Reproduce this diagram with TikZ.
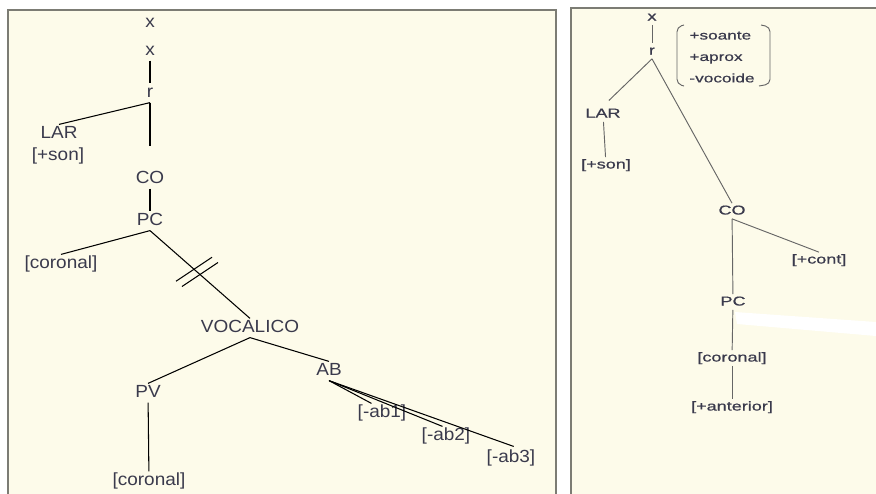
\documentclass[tikz,border=0pt]{standalone}
\usepackage{fontspec}
\setmainfont{Liberation Sans}
\newfontfamily\leftfont[FakeStretch=1.08]{Liberation Sans}
\newfontfamily\rightfont[FakeStretch=1.4, FakeBold=0.6]{Liberation Sans}
\definecolor{paper}{HTML}{FDFBEA}
\definecolor{frame}{HTML}{7C7C74}
\definecolor{ink}{HTML}{3A3A4C}

\begin{document}
\begin{tikzpicture}[
        x=0.03cm, y=-0.03cm,
        feat/.style={inner sep=1pt, text=ink, font=\leftfont\fontsize{15}{18}\selectfont, text height=11pt, text depth=3pt},
        rfeat/.style={inner sep=1pt, text=ink, font=\rightfont\fontsize{11}{13}\selectfont, text height=8.5pt, text depth=2.5pt},
        branch/.style={black, line width=0.9pt},
        rbranch/.style={black!60, line width=0.8pt},
        panel/.style={fill=paper, draw=frame, line width=2pt}
    ]

        \useasboundingbox (0,0) rectangle (876,493);
        \clip (0,0) rectangle (876,493);
        \fill[white] (0,0) rectangle (876,493);

        % Panels
        \draw[panel] (8,10) rectangle (556,520);
        \draw[panel] (571,8) rectangle (900,520);

        % Left tree: nodes
        \node[feat] (xtop) at (150,23) {x};
        \node[feat] (xl) at (150,51) {x};
        \node[feat] (rl) at (150,93) {r};
        \node[feat] (larl) at (59,134) {LAR};
        \node[feat] (sonl) at (58,156) {[+son]};
        \node[feat] (col) at (150,179) {CO};
        \node[feat] (pcl) at (150,221) {PC};
        \node[feat] (corl) at (61,264) {[coronal]};
        \node[feat] (voc) at (250,328) {VOCALICO};
        \node[feat] (pv) at (148,393) {PV};
        \node[feat] (corv) at (149,481) {[coronal]};
        \node[feat] (ab) at (329,371) {AB};
        \node[feat] (abi) at (382,413) {[-ab1]};
        \node[feat] (abii) at (446,436) {[-ab2]};
        \node[feat] (abiii) at (511,458) {[-ab3]};

        % Left tree: branches
        \draw[branch] (xl) -- (rl);
        \draw[branch] (rl.south) -- (larl.north);
        \draw[branch, shorten >=20pt] (rl.south) -- (col.north);
        \draw[branch] (col) -- (pcl);
        \draw[branch] (pcl.south) -- (corl.north);
        \draw[branch] (pcl.south) -- coordinate[pos=0.44] (cut1) coordinate[pos=0.5] (cut2) (voc.north);
        \draw[branch] (voc.south) -- (pv.north);
        \draw[branch] (voc.south) -- (ab.north);
        \draw[branch] (pv) -- (corv);
        \draw[branch] (ab.south) -- ([xshift=-9pt]abi.north);
        \draw[branch] (ab.south) -- ([xshift=-3pt]abii.north);
        \draw[branch, shorten >=5pt] (ab.south) -- ([xshift=7pt]abiii.north);

        % Delinking marks
        \draw[branch] ([shift={(-18,12)}]cut1) -- ([shift={(18,-12)}]cut1);
        \draw[branch] ([shift={(-18,12)}]cut2) -- ([shift={(18,-12)}]cut2);

        % Right tree: nodes
        \node[rfeat] (rx) at (652,17) {x};
        \node[rfeat] (rr) at (652,51) {r};
        \node[rfeat] (rlar) at (603,114) {LAR};
        \node[rfeat] (rson) at (606,165) {[+son]};
        \node[rfeat] (rco) at (732,211) {CO};
        \node[rfeat] (cont) at (819,260) {[+cont]};
        \node[rfeat] (rpc) at (733,302) {PC};
        \node[rfeat] (rcor) at (732,358) {[coronal]};
        \node[rfeat] (rant) at (732,407) {[+anterior]};
        \node[rfeat, align=left, font=\rightfont\fontsize{10.5}{18.3}\selectfont, text height=, text depth=] (spec) at (722,57) {+soante\\+aprox\\-vocoide};

        % Right tree: branches
        \draw[rbranch] (rx) -- (rr);
        \draw[rbranch, shorten >=7pt] (rr.south) -- (rlar.north);
        \draw[rbranch] (rr.south) -- (rco.north);
        \draw[rbranch] (rlar) -- (rson);
        \draw[rbranch] (rco) -- (rpc);
        \draw[rbranch] (rco.south) -- (cont.north);
        \draw[rbranch] (rpc) -- (rcor);
        \draw[rbranch] (rcor) -- (rant);

        % Parentheses round the features
        \draw[rbranch, rounded corners=4pt] (684,25) -- (677,27) -- (677,84) -- (684,86);
        \draw[rbranch, rounded corners=4pt] (761,25) -- (770,27) -- (770,84) -- (759,86);

        % Erased stroke
        \fill[white] (735,312) -- (876,322) -- (876,336) -- (737,324) -- cycle;

    \end{tikzpicture}
\end{document}
